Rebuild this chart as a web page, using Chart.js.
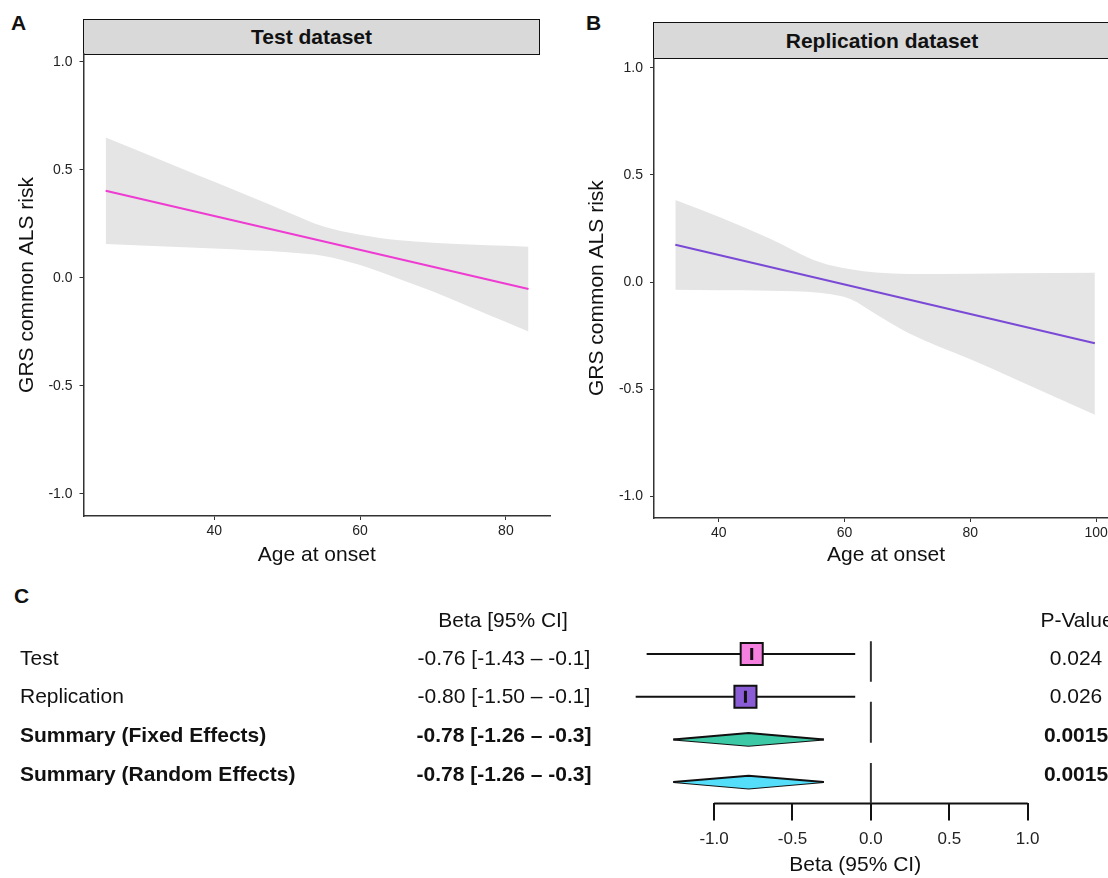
<!DOCTYPE html>
<html>
<head>
<meta charset="utf-8">
<script src="https://cdn.jsdelivr.net/npm/chart.js@4.4.1/dist/chart.umd.min.js"></script>
<style>
  html, body { margin: 0; padding: 0; background: #fff; }
  body { width: 1108px; height: 878px; position: relative; overflow: hidden; font-family: 'Liberation Sans', Arial, sans-serif; }
  canvas { position: absolute; }
  .tag { position: absolute; font-weight: bold; font-size: 21px; line-height: 21px; color: #111; }
  .strip { position: absolute; box-sizing: border-box; background: #d9d9d9; border: 1.5px solid #111;
           font-weight: bold; font-size: 21px; color: #111; display: flex; align-items: center; justify-content: center; }
</style>
</head>
<body>
<div class="tag" style="left:11px; top:12px;">A</div>
<div class="tag" style="left:586px; top:12px;">B</div>
<div class="tag" style="left:14px; top:585px;">C</div>
<div class="strip" style="left:83px; top:19px; width:457px; height:36px;">Test dataset</div>
<div class="strip" style="left:653px; top:22px; width:470px; height:37px; padding-right:12px;">Replication dataset</div>
<canvas id="chartA" width="560" height="580" style="left:0; top:0;"></canvas>
<canvas id="chartB" width="560" height="580" style="left:560px; top:0;"></canvas>
<canvas id="chartC" width="1108" height="298" style="left:0; top:580px;"></canvas>
<script>
// panel A - test dataset (smoothed band + fitted line)
const ageA = [25.1, 30, 35, 40, 45, 50, 55, 60, 65, 70, 75, 80, 83.1];
const upperA = [0.65, 0.583, 0.514, 0.445, 0.376, 0.306, 0.238, 0.200, 0.176, 0.163, 0.155, 0.149, 0.145];
const lowerA = [0.157, 0.15, 0.143, 0.136, 0.128, 0.119, 0.102, 0.06, 0.0, -0.063, -0.133, -0.204, -0.248];
const fitAgeA = [25.1, 83.1];
const fitA = [0.404, -0.051];

// panel B - replication dataset
const ageB = [33.1, 40, 48, 56, 61, 65, 70.3, 80, 87, 99.8];
const upperB = [0.383, 0.305, 0.205, 0.094, 0.06, 0.045, 0.038, 0.039, 0.041, 0.044];
const lowerB = [-0.036, -0.038, -0.040, -0.050, -0.080, -0.15, -0.24, -0.36, -0.45, -0.619];
const fitAgeB = [33.1, 99.8];
const fitB = [0.174, -0.285];

const ageTicksA = [40, 60, 80];
const ageTicksB = [40, 60, 80, 100];
const riskTicks = [-1, -0.5, 0, 0.5, 1];

// panel C - forest plot
const forestLabels = ['Test', 'Replication', 'Summary (Fixed Effects)', 'Summary (Random Effects)'];
const forestEst = [-0.76, -0.80, -0.78, -0.78];
const forestLo = [-1.43, -1.50, -1.26, -1.26];
const forestHi = [-0.1, -0.1, -0.3, -0.3];
const forestP = [0.024, 0.026, 0.0015, 0.0015];
const forestKind = ['study', 'study', 'summary', 'summary'];
const forestColors = ['#f580e0', '#8a5cd6', '#3cc9a6', '#55def9'];
const forestTicks = [-1, -0.5, 0, 0.5, 1];
const zeroSegments = [[4.3, 3.35], [2.88, 1.92], [1.45, 0.5]];

Chart.defaults.font.family = "'Liberation Sans', Arial, sans-serif";
Chart.defaults.color = '#111';

const pts = (xs, ys) => xs.map((x, i) => ({x: x, y: ys[i]}));

function riskPanel(id, cfg) {
    return new Chart(document.getElementById(id), {
        type: 'line',
        data: {
            datasets: [{
                data: pts(cfg.age, cfg.upper),
                borderWidth: 0,
                pointRadius: 0,
                backgroundColor: '#e5e5e5',
                fill: '+1',
                cubicInterpolationMode: 'monotone',
                order: 2
            }, {
                data: pts(cfg.age, cfg.lower),
                borderWidth: 0,
                pointRadius: 0,
                fill: false,
                cubicInterpolationMode: 'monotone',
                order: 3
            }, {
                data: pts(cfg.fitAge, cfg.fit),
                borderColor: cfg.color,
                borderWidth: 2,
                pointRadius: 0,
                fill: false,
                order: 0
            }]
        },
        options: {
            responsive: false,
            animation: false,
            layout: { padding: { top: cfg.top, right: cfg.right, left: 0, bottom: 0 } },
            plugins: { legend: { display: false }, tooltip: { enabled: false } },
            scales: {
                x: {
                    type: 'linear',
                    min: cfg.xMin, max: cfg.xMax,
                    afterBuildTicks: s => { s.ticks = cfg.xTicks.map(v => ({value: v})); },
                    afterFit: s => { s.height = cfg.xHeight; },
                    grid: { drawOnChartArea: false, tickLength: 4, color: '#333', lineWidth: 1 },
                    border: { color: '#333', width: 1.5 },
                    ticks: { font: { size: 14 }, color: '#222', padding: 3, maxRotation: 0, autoSkip: false },
                    title: { display: true, text: 'Age at onset', font: { size: 21 }, color: '#111', padding: { top: 0, bottom: 12 } }
                },
                y: {
                    min: cfg.yMin, max: cfg.yMax,
                    afterBuildTicks: s => { s.ticks = riskTicks.map(v => ({value: v})); },
                    afterFit: s => { s.width = cfg.yWidth; },
                    grid: { drawOnChartArea: false, tickLength: 4, color: '#333', lineWidth: 1 },
                    border: { color: '#333', width: 1.5 },
                    ticks: { font: { size: 14 }, color: '#222', padding: 7, callback: v => v.toFixed(1) },
                    title: { display: true, text: 'GRS common ALS risk', font: { size: 21 }, color: '#111', padding: { top: cfg.titlePad, bottom: 0 } }
                }
            }
        }
    });
}

riskPanel('chartA', {
    age: ageA, upper: upperA, lower: lowerA, fitAge: fitAgeA, fit: fitA,
    color: '#ee3cd2', xTicks: ageTicksA,
    xMin: 22.06, xMax: 86.05, yMin: -1.102, yMax: 1.037,
    top: 54, right: 10, xHeight: 64, yWidth: 83.5, titlePad: 15
});

riskPanel('chartB', {
    age: ageB, upper: upperB, lower: lowerB, fitAge: fitAgeB, fit: fitB,
    color: '#7a4ad6', xTicks: ageTicksB,
    xMin: 29.71, xMax: 103.48, yMin: -1.1, yMax: 1.044,
    top: 58.3, right: 2, xHeight: 62, yWidth: 94, titlePad: 24.4
});

// forest plot
const rowOf = i => forestLabels.length - i;
const forestSets = [];

zeroSegments.forEach(seg => {
    forestSets.push({
        data: [{x: 0, y: seg[0]}, {x: 0, y: seg[1]}],
        borderColor: '#333', borderWidth: 2, pointRadius: 0, fill: false, order: 5
    });
});

forestSets.push({
    data: [{x: forestTicks[0], y: 0.5}, {x: forestTicks[forestTicks.length - 1], y: 0.5}],
    borderColor: '#111', borderWidth: 2, pointRadius: 0, fill: false, clip: false, order: 5
});

forestLabels.forEach((lab, i) => {
    const r = rowOf(i);
    if (forestKind[i] === 'study') {
        forestSets.push({
            data: [{x: forestLo[i], y: r}, {x: forestHi[i], y: r}],
            borderColor: '#111', borderWidth: 2, pointRadius: 0, fill: false, order: 4
        });
        forestSets.push({
            data: [{x: forestEst[i], y: r}],
            showLine: false, pointStyle: 'rect', pointRadius: 15.6,
            backgroundColor: forestColors[i], borderColor: '#111', borderWidth: 2, order: 3
        });
        forestSets.push({
            data: [{x: forestEst[i], y: r}],
            showLine: false, pointStyle: 'line', pointRotation: 90, pointRadius: 6,
            borderColor: '#111', borderWidth: 3, order: 2
        });
    } else {
        const dh = 0.15;
        forestSets.push({
            data: [{x: forestLo[i], y: r}, {x: forestEst[i], y: r + dh}, {x: forestHi[i], y: r}],
            borderColor: '#111', borderWidth: 2, pointRadius: 0, backgroundColor: forestColors[i],
            fill: '+1', tension: 0, order: 3
        });
        forestSets.push({
            data: [{x: forestLo[i], y: r}, {x: forestEst[i], y: r - dh}, {x: forestHi[i], y: r}],
            borderColor: '#111', borderWidth: 2, pointRadius: 0, fill: false, tension: 0, order: 3
        });
    }
});

const forestText = {
    id: 'forestText',
    afterDraw(chart) {
        const c = chart.ctx;
        const y = chart.scales.y;
        const first = y.getPixelForValue(rowOf(0)) + 5;
        const header = y.getPixelForValue(rowOf(0)) - 33;
        c.save();
        c.fillStyle = '#111';
        c.textBaseline = 'middle';
        c.font = "21px 'Liberation Sans', Arial, sans-serif";
        c.textAlign = 'center';
        c.fillText('Beta [95% CI]', 503, header);
        c.fillText('P-Value', 1077, header);
        forestLabels.forEach((lab, i) => {
            const ty = first + i * 38.7;
            const w = forestKind[i] === 'summary' ? 'bold ' : '';
            c.font = w + "21px 'Liberation Sans', Arial, sans-serif";
            c.textAlign = 'left';
            c.fillText(lab, 20, ty);
            c.textAlign = 'center';
            const beta = forestEst[i].toFixed(2) + ' [' + forestLo[i].toFixed(2) + ' \u2013 ' + String(forestHi[i]) + ']';
            c.fillText(beta, 504, ty);
            c.fillText(String(forestP[i]), 1076, ty);
        });
        c.restore();
    }
};

new Chart(document.getElementById('chartC'), {
    type: 'line',
    data: { datasets: forestSets },
    options: {
        responsive: false,
        animation: false,
        layout: { padding: { top: 31.3, right: 16.8, left: 620, bottom: 0 } },
        plugins: { legend: { display: false }, tooltip: { enabled: false } },
        scales: {
            x: {
                type: 'linear',
                min: -1.6, max: 1.4,
                afterBuildTicks: s => { s.ticks = forestTicks.map(v => ({value: v})); },
                afterFit: s => { s.height = 74.55; },
                grid: { drawOnChartArea: false, tickLength: 17, color: '#111', lineWidth: 2 },
                border: { display: false },
                ticks: { font: { size: 17 }, color: '#222', padding: 9, maxRotation: 0, autoSkip: false, callback: v => v.toFixed(1) },
                title: { display: true, text: 'Beta (95% CI)', font: { size: 21 }, color: '#111', padding: { top: 0, bottom: 0 } }
            },
            y: { type: 'linear', display: false, min: 0.5, max: 5 }
        }
    },
    plugins: [forestText]
});
</script>
</body>
</html>
